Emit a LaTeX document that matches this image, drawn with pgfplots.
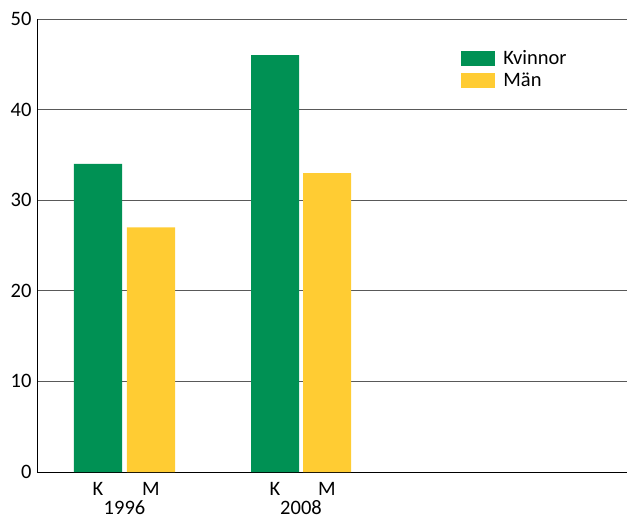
\documentclass[border=0pt]{standalone}
\usepackage{pgfplots}
\pgfplotsset{compat=1.18}
\usepackage{fontspec}
\setmainfont{Carlito}
\definecolor{kgreen}{RGB}{0,145,84}
\definecolor{myellow}{RGB}{255,204,51}
\begin{document}
\begin{tikzpicture}
\path[use as bounding box] (-37bp,-47bp) rectangle (590bp,472bp);
\begin{axis}[
  at={(0,0)}, anchor=south west,
  scale only axis, width=590bp, height=453bp,
  xmin=0, xmax=590, ymin=0, ymax=50,
  axis lines*=left,
  axis line style={black, line width=1pt},
  ytick={0,10,...,50},
  ymajorgrids, grid style={black!65, line width=0.9pt},
  major tick length=0pt,
  xtick={61,114,238,290}, xticklabels={K,M,K,M},
  extra x ticks={87.5,264}, extra x tick labels={1996,2008},
  extra x tick style={grid=none, tick label style={inner sep=0pt, yshift=-21bp}},
  /pgf/number format/assume math mode=true,
  tick label style={font=\fontsize{20.5bp}{23bp}\selectfont},
  yticklabel style={xshift=-2bp},
  xticklabel style={yshift=-7bp},
  legend style={at={(0.719,0.938)}, anchor=north west, draw=none, fill=none,
    font=\fontsize{20.5bp}{23bp}\selectfont, row sep=1bp, column sep=5bp, inner sep=0pt,
    nodes={inner sep=3bp}},
  legend image code/.code={\fill[#1] (0bp,-7.5bp) rectangle (34bp,7.5bp);},
  legend cell align=left,
]
\addplot[ybar, bar width=48bp, bar shift=0pt, fill=kgreen, draw=none] coordinates {(61,34) (238,46)};
\addlegendentry{Kvinnor}
\addplot[ybar, bar width=48bp, bar shift=0pt, fill=myellow, draw=none] coordinates {(114,27) (290,33)};
\addlegendentry{Män}
\end{axis}
\end{tikzpicture}
\end{document}
